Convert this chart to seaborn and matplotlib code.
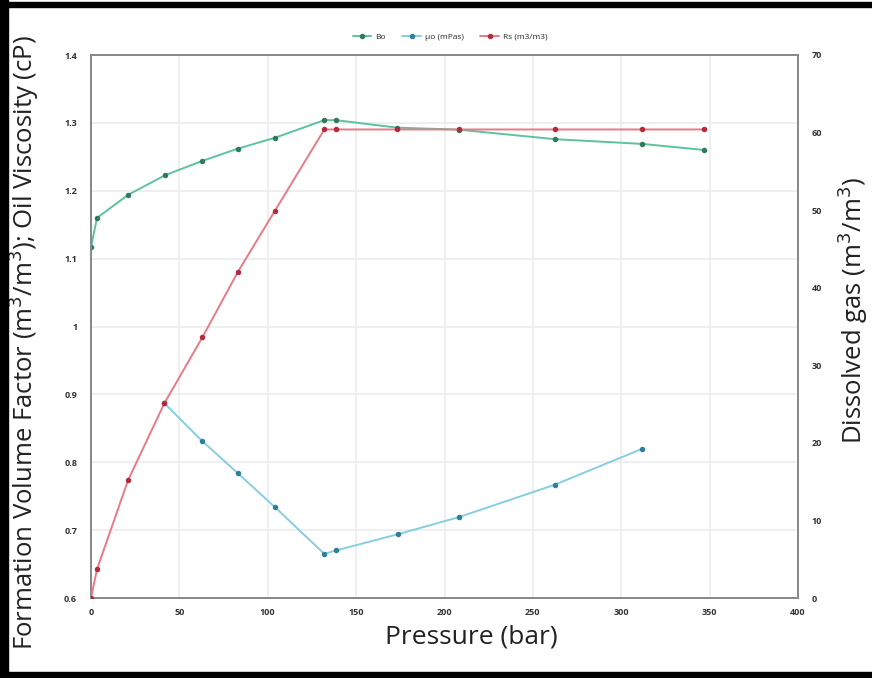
import matplotlib
matplotlib.use("Agg")
import matplotlib.pyplot as plt
import matplotlib.patches as mpatches
from matplotlib.ticker import FuncFormatter
import seaborn as sns
import pandas as pd

# ---- data ----
bo_pressure = [0, 3.4, 21, 42, 63, 83, 104, 132, 138.6, 173, 208, 262.5, 312, 347]
bo_values = [1.117, 1.160, 1.194, 1.223, 1.244, 1.262, 1.278, 1.304, 1.304, 1.293, 1.290, 1.276, 1.269, 1.260]

mu_pressure = [41.5, 63, 83, 104, 132, 138.6, 173.7, 208, 262.5, 312]
mu_values = [0.887, 0.831, 0.784, 0.734, 0.665, 0.670, 0.694, 0.719, 0.767, 0.820]

rs_pressure = [0, 3.4, 21, 41.5, 63, 83, 104, 132, 138.6, 173, 208, 262.5, 312, 347]
rs_values = [0.0, 3.7, 15.2, 25.1, 33.6, 42.0, 49.9, 60.4, 60.4, 60.4, 60.4, 60.4, 60.4, 60.4]

series_labels = ["Bo", "µo (mPas)", "Rs (m3/m3)"]
x_ticks = [0, 50, 100, 150, 200, 250, 300, 350, 400]
left_ticks = [0.6, 0.7, 0.8, 0.9, 1.0, 1.1, 1.2, 1.3, 1.4]
right_ticks = [0, 10, 20, 30, 40, 50, 60, 70]

df_bo = pd.DataFrame({"p": bo_pressure, "v": bo_values})
df_mu = pd.DataFrame({"p": mu_pressure, "v": mu_values})
df_rs = pd.DataFrame({"p": rs_pressure, "v": rs_values})

sns.set_theme(style="white")
plt.rcParams["font.family"] = ["Open Sans", "DejaVu Sans"]

fig = plt.figure(figsize=(8.72, 6.78), dpi=100)
fig.patch.set_facecolor("white")
ax = fig.add_axes([91/872, 80/678, 707/872, 543/678])
ax2 = ax.twinx()

c_bo, m_bo = "#5cc39a", "#2f7a5c"
c_mu, m_mu = "#86cfe0", "#2f7f9a"
c_rs, m_rs = "#e87a86", "#b42a3c"

kw = dict(lw=1.4, marker="o", markersize=3.2, zorder=3, legend=False)
sns.lineplot(data=df_bo, x="p", y="v", ax=ax, color=c_bo, markerfacecolor=m_bo,
             markeredgecolor=m_bo, label=series_labels[0], **kw)
sns.lineplot(data=df_mu, x="p", y="v", ax=ax, color=c_mu, markerfacecolor=m_mu,
             markeredgecolor=m_mu, label=series_labels[1], **kw)
sns.lineplot(data=df_rs, x="p", y="v", ax=ax2, color=c_rs, markerfacecolor=m_rs,
             markeredgecolor=m_rs, label=series_labels[2], **kw)

ax.set_xlim(0, 400)
ax.set_ylim(0.6, 1.4)
ax2.set_ylim(0, 70)
ax.set_xticks(x_ticks)
ax.set_yticks(left_ticks)
ax2.set_yticks(right_ticks)
ax.yaxis.set_major_formatter(FuncFormatter(lambda v, p: ("%g" % round(v, 2))))

ax.grid(True, color="#ececec", lw=1.2)
ax.set_axisbelow(True)
for a in (ax, ax2):
    for s in a.spines.values():
        s.set_color("#8a8a8a")
        s.set_linewidth(1.4)
    a.tick_params(length=0, labelsize=6.5, colors="#333333", pad=10)
    a.set_xlabel("")
    a.set_ylabel("")
for lab in ax.get_yticklabels() + ax2.get_yticklabels() + ax.get_xticklabels():
    lab.set_fontweight("bold")
ax.tick_params(axis="x", pad=7)

fig.text(471/872, 1 - 637/678, "Pressure (bar)", ha="center", va="center",
         fontsize=19, color="#222222")
fig.text(24/872, 1 - 342/678,
         "Formation Volume Factor (m$^3$/m$^3$); Oil Viscosity (cP)",
         ha="center", va="center", rotation=90, fontsize=18.5, color="#222222")
fig.text(853/872, 1 - 310/678, "Dissolved gas (m$^3$/m$^3$)",
         ha="center", va="center", rotation=90, fontsize=18.5, color="#222222")

handles = ax.get_lines()[:2] + ax2.get_lines()[:1]
leg = fig.legend(handles, series_labels, loc="center", bbox_to_anchor=(450/872, 1 - 37/678),
                 ncol=3, frameon=False, fontsize=6, handlelength=2.2, columnspacing=2.0,
                 handletextpad=0.5)

# black frame edges
fig.patches.append(mpatches.Rectangle((0, 0), 8/872, 1, transform=fig.transFigure,
                                      color="black", zorder=10))
fig.patches.append(mpatches.Rectangle((0, 1 - 7/678), 1, 5/678, transform=fig.transFigure,
                                      color="black", zorder=10))
fig.patches.append(mpatches.Rectangle((0, 0), 1, 6/678, transform=fig.transFigure,
                                      color="black", zorder=10))

fig.savefig("out.png", dpi=100)
